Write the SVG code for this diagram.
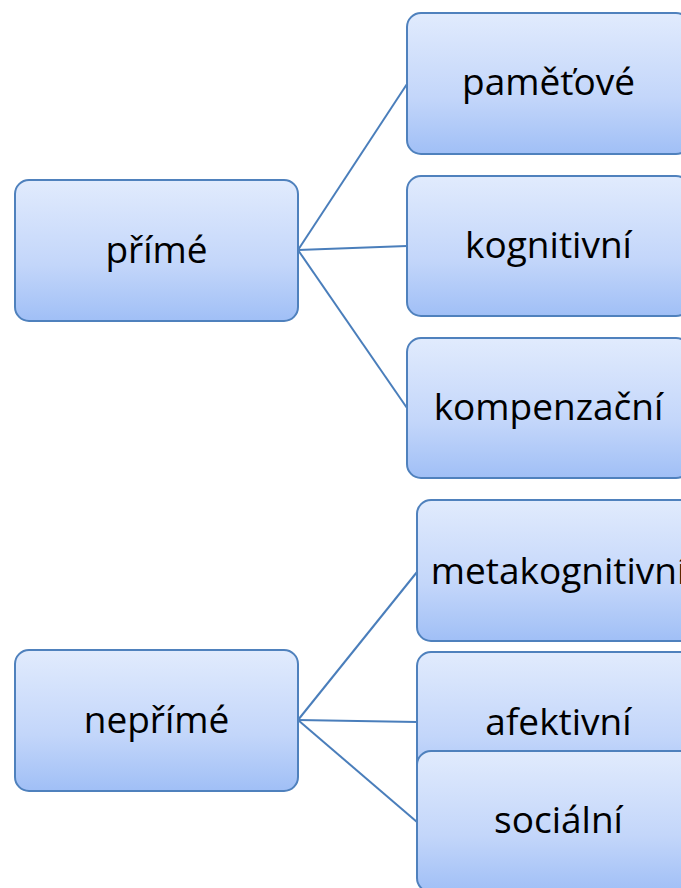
<svg xmlns="http://www.w3.org/2000/svg" width="681" height="888" viewBox="0 0 681 888">
<defs>
<linearGradient id="g" x1="0" y1="0" x2="0" y2="1">
<stop offset="0" stop-color="#e1ebfd"/>
<stop offset="0.6" stop-color="#c3d6fa"/>
<stop offset="1" stop-color="#a0bff6"/>
</linearGradient>
</defs>
<style>
.box{fill:url(#g);stroke:#4f81bd;stroke-width:2}
.lbl{font-family:"Open Sans","Noto Sans",sans-serif;font-size:37px;fill:#000;text-anchor:middle}
.con line{stroke:#4a7ebb;stroke-width:2}
</style>
<rect width="681" height="888" fill="#fff"/>
<g class="con">
<line x1="298" y1="250" x2="407" y2="84"/>
<line x1="298" y1="250" x2="407" y2="246"/>
<line x1="298" y1="250" x2="407" y2="408"/>
<line x1="298" y1="720" x2="417" y2="572"/>
<line x1="298" y1="720" x2="417" y2="722"/>
<line x1="298" y1="720" x2="417" y2="822"/>
</g>
<g id="prime"><rect class="box" x="15" y="180" width="283" height="141" rx="14"/><text class="lbl" x="156.5" y="263">přímé</text></g>
<g id="neprime"><rect class="box" x="15" y="650" width="283" height="141" rx="14"/><text class="lbl" x="156.5" y="733">nepřímé</text></g>
<g id="pametove"><rect class="box" x="407" y="13" width="283" height="141" rx="14"/><text class="lbl" x="548.5" y="95">paměťové</text></g>
<g id="kognitivni"><rect class="box" x="407" y="176" width="283" height="140" rx="14"/><text class="lbl" x="548.5" y="258">kognitivní</text></g>
<g id="kompenzacni"><rect class="box" x="407" y="338" width="283" height="140" rx="14"/><text class="lbl" x="548.5" y="420">kompenzační</text></g>
<g id="metakognitivni"><rect class="box" x="417" y="500" width="283" height="141" rx="14"/><text class="lbl" x="558.5" y="584">metakognitivní</text></g>
<g id="afektivni"><rect class="box" x="417" y="652" width="283" height="141" rx="14"/><text class="lbl" x="558.5" y="735">afektivní</text></g>
<g id="socialni"><rect class="box" x="417" y="751" width="283" height="141" rx="14"/><text class="lbl" x="558.5" y="833">sociální</text></g>
</svg>
